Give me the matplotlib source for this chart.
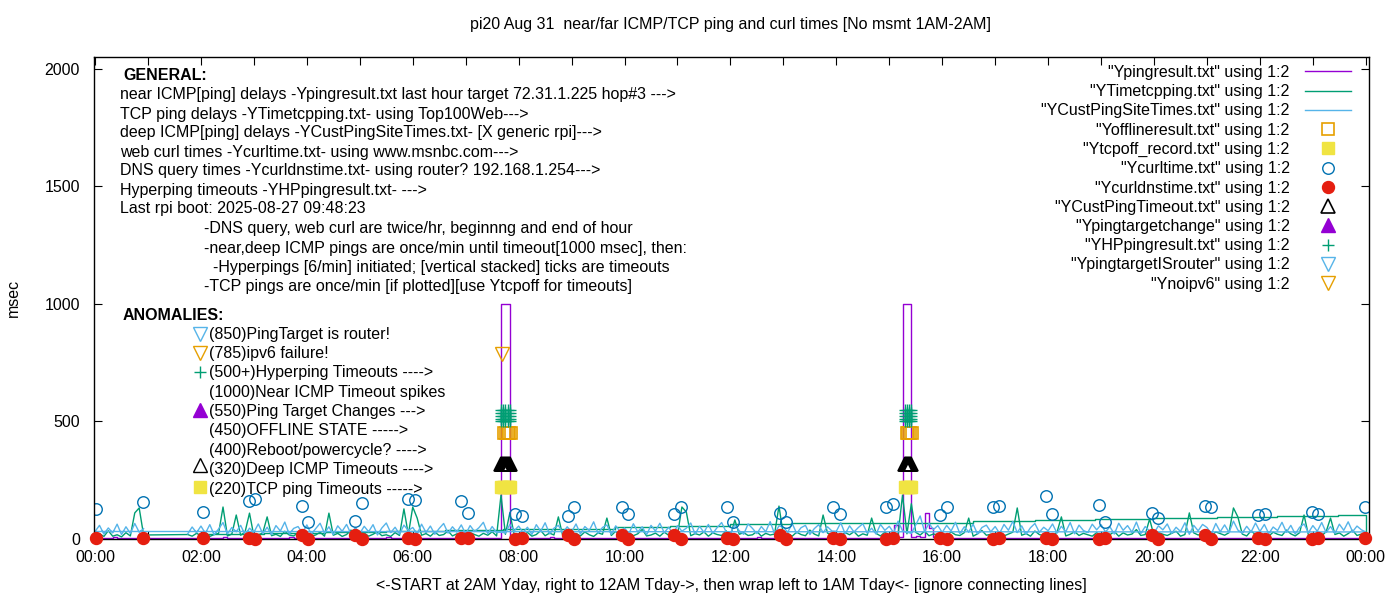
"""
Recreation of the gnuplot ping/curl chart for pi20, Aug 31
"""

import numpy as np
import matplotlib
matplotlib.use("Agg")
import matplotlib.pyplot as plt
from matplotlib.ticker import MultipleLocator, FuncFormatter

plt.rcParams['font.family'] = ['Liberation Sans', 'DejaVu Sans']
FS = 11.5

# gnuplot default line colours
PURPLE = '#9400D3'
GREEN = '#009E73'
LBLUE = '#56B4E9'
ORANGE = '#E69F00'
YELLOW = '#F0E442'
BLUE = '#0072B2'
RED = '#E51E10'

# ---- data (hours of day, msec) -------------------------------------------
# 5 minute samples; nothing measured between ~01:00 and 01:45
t_early = np.arange(12) / 12.0          # 00:00 .. 00:55
t_late = 1.75 + np.arange(268) / 12.0   # 01:45 .. 24:00

# near ICMP ping (Ypingresult.txt)
near_early = [5, 6, 4, 5, 7, 5, 4, 6, 5, 5, 4, 6]
near_late = [
    5, 5, 5,                                          # 01:45
    5, 4, 6, 5, 5, 7, 4, 5, 6, 5, 4, 5,               # 02
    6, 5, 4, 5, 6, 5, 5, 4, 7, 5, 5, 6,               # 03
    4, 5, 6, 5, 4, 5, 6, 5, 5, 4, 6, 5,               # 04
    5, 6, 5, 4, 5, 5, 7, 5, 4, 6, 5, 5,               # 05
    6, 4, 5, 5, 6, 4, 5, 6, 5, 5, 4, 6,               # 06
    5, 5, 6, 4, 5, 6, 5, 5, 1000, 1000, 6, 5,         # 07
    4, 6, 5, 5, 4, 6, 5, 7, 5, 4, 5, 6,               # 08
    5, 4, 6, 5, 5, 4, 6, 5, 4, 6, 5, 5,               # 09
    6, 5, 4, 6, 5, 5, 4, 5, 6, 5, 4, 5,               # 10
    5, 6, 5, 4, 6, 5, 5, 6, 4, 5, 6, 5,               # 11
    4, 5, 6, 5, 5, 4, 7, 5, 5, 6, 4, 5,               # 12
    6, 5, 5, 4, 6, 5, 4, 6, 5, 5, 6, 4,               # 13
    5, 4, 6, 5, 5, 6, 4, 5, 5, 6, 5, 4,               # 14
    5, 60, 8, 1000, 1000, 9, 12, 7, 110, 45, 8, 6,    # 15
    5, 6, 4, 5, 6, 5, 5, 4, 6, 5, 5, 6,               # 16
    4, 5, 5, 6, 4, 5, 6, 5, 4, 6, 5, 5,               # 17
    6, 5, 4, 5, 5, 6, 5, 4, 6, 5, 5, 4,               # 18
    5, 6, 5, 5, 4, 6, 5, 5, 6, 4, 5, 6,               # 19
    4, 5, 6, 5, 5, 4, 6, 5, 5, 6, 4, 5,               # 20
    5, 5, 4, 6, 5, 5, 6, 4, 5, 5, 6, 5,               # 21
    6, 4, 5, 5, 6, 5, 4, 6, 5, 5, 4, 6,               # 22
    5, 5, 6, 4, 5, 6, 5, 5, 4, 6, 5, 5,               # 23
    5,                                                # 24:00
]

# TCP ping (YTimetcpping.txt)
tcp_early = [14, 22, 11, 35, 12, 18, 9, 27, 13, 111, 132, 17]
tcp_late = [
    19, 12, 24,                                       # 01:45
    15, 28, 11, 19, 24, 136, 13, 21, 102, 16, 30, 110,  # 02
    12, 18, 25, 94, 14, 20, 11, 33, 17, 13, 26, 15,   # 03
    21, 13, 17, 29, 12, 110, 16, 24, 11, 19, 38, 14,  # 04
    17, 25, 12, 20, 31, 14, 18, 11, 27, 15, 128, 19,  # 05
    136, 89, 16, 23, 12, 29, 15, 19, 34, 13, 22, 17,  # 06
    14, 27, 19, 12, 24, 16, 31, 13, 187, 20, 111, 18,  # 07
    22, 15, 28, 12, 19, 36, 14, 25, 17, 94, 13, 21,   # 08
    16, 24, 13, 30, 18, 11, 26, 20, 89, 15, 33, 12,   # 09
    19, 28, 14, 22, 41, 13, 17, 25, 12, 29, 16, 21,   # 10
    18, 136, 115, 14, 23, 17, 30, 12, 26, 19, 15, 35,  # 11
    13, 81, 20, 27, 15, 18, 32, 12, 24, 17, 21, 140,  # 12
    16, 23, 12, 29, 19, 14, 38, 21, 13, 102, 25, 17,  # 13
    20, 14, 27, 18, 31, 12, 22, 16, 89, 24, 13, 29,   # 14
    15, 26, 19, 187, 22, 150, 28, 17, 33, 14, 21, 18,  # 15
    24, 13, 30, 18, 15, 27, 89, 12, 22, 36, 16, 20,   # 16
    17, 25, 13, 21, 29, 132, 16, 23, 12, 34, 19, 14,  # 17
    22, 16, 28, 94, 13, 20, 31, 15, 24, 18, 12, 27,   # 18
    14, 23, 18, 32, 12, 26, 17, 21, 40, 15, 19, 85,   # 19
    13, 28, 20, 15, 24, 33, 12, 19, 111, 26, 17, 22,  # 20
    19, 14, 30, 23, 16, 27, 132, 94, 21, 13, 35, 18,  # 21
    25, 17, 12, 29, 20, 15, 38, 22, 13, 27, 102, 16,  # 22
    18, 24, 14, 31, 89, 19, 26, 12, 23, 37, 15, 21,   # 23
    12,                                               # 24:00
]

# hourly TCP block levels (the rising staircase)
tcp_step_t = [2.05, 3.2, 4.35, 5.5, 6.6, 7.7, 9.82, 10.86, 11.99, 13.15,
              14.31, 15.45, 16.58, 17.75, 18.88, 19.98, 21.19, 22.32, 23.47, 24.0]
tcp_step_ms = [20, 25, 30, 34, 39, 43, 51, 55, 64, 66,
               68, 70, 77, 81, 85, 89, 94, 98, 102, 12]

# deep ICMP ping (YCustPingSiteTimes.txt), file order starts at 2AM
deep_early = [32, 58, 21, 47, 26, 63, 19, 52, 24, 66, 29, 44]
deep_late = [
    22, 51, 27,                                       # 01:45
    55, 24, 61, 18, 43, 70, 22, 49, 31, 58, 17, 46,   # 02
    29, 64, 23, 50, 19, 57, 34, 72, 21, 45, 53, 26,   # 03
    60, 20, 44, 67, 25, 52, 18, 56, 33, 62, 22, 48,   # 04
    24, 54, 31, 61, 17, 47, 68, 27, 50, 21, 59, 36,   # 05
    49, 22, 63, 28, 55, 20, 45, 66, 25, 52, 30, 60,   # 06
    21, 57, 32, 48, 71, 23, 53, 27, 30, 25, 62, 35,   # 07
    55, 28, 50, 19, 61, 33, 69, 22, 46, 58, 26, 52,   # 08
    30, 64, 21, 53, 36, 73, 24, 49, 60, 20, 56, 32,   # 09
    47, 23, 65, 30, 52, 18, 58, 34, 67, 27, 50, 22,   # 10
    57, 33, 46, 68, 21, 54, 28, 62, 24, 49, 70, 31,   # 11
    26, 60, 35, 20, 64, 45, 23, 53, 31, 74, 22, 56,   # 12
    50, 29, 66, 24, 48, 58, 19, 44, 61, 27, 52, 34,   # 13
    33, 69, 22, 56, 30, 49, 65, 25, 46, 21, 62, 37,   # 14
    54, 27, 76, 35, 29, 24, 60, 98, 31, 67, 40, 57,   # 15
    28, 58, 34, 71, 23, 52, 30, 63, 21, 49, 59, 31,   # 16
    53, 24, 62, 37, 75, 27, 56, 20, 48, 66, 29, 50,   # 17
    35, 64, 25, 54, 31, 70, 22, 59, 36, 28, 63, 39,   # 18
    61, 30, 52, 21, 67, 37, 57, 29, 72, 23, 53, 34,   # 19
    26, 56, 39, 64, 24, 50, 32, 69, 20, 58, 35, 62,   # 20
    49, 22, 66, 31, 60, 28, 76, 38, 25, 54, 30, 68,   # 21
    32, 62, 23, 51, 36, 71, 29, 58, 21, 50, 64, 27,   # 22
    57, 33, 70, 28, 53, 24, 63, 37, 73, 31, 55, 39,   # 23
    30,                                               # 24:00
]

# curl / DNS measurement times (twice per hour)
meas_t = [0.02, 0.91, 2.04, 2.91, 3.02, 3.91, 4.02, 4.91, 5.04, 5.91, 6.04,
          6.91, 7.04, 7.93, 8.06, 8.93, 9.04, 9.95, 10.06, 10.93, 11.06,
          11.93, 12.05, 12.93, 13.05, 13.94, 14.07, 14.94, 15.07, 15.96, 16.09,
          16.96, 17.07, 17.96, 18.07, 18.96, 19.07, 19.96, 20.07, 20.96, 21.07,
          21.96, 22.09, 22.98, 23.09, 23.98]
curl_ms = [128, 157, 115, 162, 170, 140, 72, 77, 153, 170, 166,
           162, 111, 106, 98, 98, 136, 136, 106, 106, 136,
           136, 72, 111, 72, 136, 106, 136, 149, 102, 136,
           136, 140, 183, 106, 145, 72, 111, 89, 140, 136,
           102, 106, 115, 106, 136]
dns_ms = [3, 3, 3, 3, 2, 16, 2, 15, 2, 3, 2,
          3, 3, 2, 3, 16, 1, 15, 2, 17, 2,
          3, 2, 16, 1, 3, 2, 2, 3, 3, 2,
          2, 3, 3, 2, 2, 3, 15, 2, 16, 1,
          3, 2, 2, 3, 3]

# timeout / anomaly events
offline_t = [7.73, 7.76, 7.79, 7.82, 7.85, 15.33, 15.36, 15.39, 15.42]
offline_ms = 450
tcpoff_t = [7.67, 7.70, 7.73, 7.76, 7.79, 7.82, 7.84, 15.30, 15.33, 15.36, 15.39, 15.41]
tcpoff_ms = 220
custto_t = [7.66, 7.68, 7.70, 7.72, 7.74, 7.76, 7.78, 7.80, 7.82, 7.84,
            15.29, 15.31, 15.33, 15.35, 15.37, 15.39, 15.41]
custto_ms = 320
hp_t = [7.67, 7.71, 7.75, 7.79, 7.84, 15.30, 15.33, 15.37, 15.41]
hp_ms = [500, 512, 524, 536, 548]
targetchange_t = []
targetchange_ms = 550
isrouter_t = []
isrouter_ms = 850
noipv6_t = [7.69]
noipv6_ms = 785

general_lines = [
    "near ICMP[ping] delays -Ypingresult.txt last hour target 72.31.1.225 hop#3 --->",
    "TCP ping delays -YTimetcpping.txt- using Top100Web--->",
    "deep ICMP[ping] delays -YCustPingSiteTimes.txt- [X generic rpi]--->",
    "web curl times -Ycurltime.txt- using www.msnbc.com--->",
    "DNS query times -Ycurldnstime.txt- using router? 192.168.1.254--->",
    "Hyperping timeouts -YHPpingresult.txt- --->",
    "Last rpi boot: 2025-08-27 09:48:23",
]
note_lines = [
    "-DNS query, web curl are twice/hr, beginnng and end of hour",
    "-near,deep ICMP pings are once/min until timeout[1000 msec], then:",
    "  -Hyperpings [6/min] initiated; [vertical stacked] ticks are timeouts",
    "-TCP pings are once/min [if plotted][use Ytcpoff for timeouts]",
]
anomaly_lines = [
    "(850)PingTarget is router!",
    "(785)ipv6 failure!",
    "(500+)Hyperping Timeouts ---->",
    "(1000)Near ICMP Timeout spikes",
    "(550)Ping Target Changes --->",
    "(450)OFFLINE STATE ----->",
    "(400)Reboot/powercycle? ---->",
    "(320)Deep ICMP Timeouts ---->",
    "(220)TCP ping Timeouts ----->",
]

# ---- figure ---------------------------------------------------------------
W, H = 1400, 600
fig = plt.figure(figsize=(W / 100, H / 100), dpi=100)
AX_L, AX_R, AX_T, AX_B = 94, 1369, 57, 539
ax = fig.add_axes([AX_L / W, 1 - AX_B / H, (AX_R - AX_L) / W, (AX_B - AX_T) / H])


def frac(x, y):
    """pixel position of the picture -> axes fraction"""
    return (x - AX_L) / (AX_R - AX_L), (AX_B - y) / (AX_B - AX_T)


lw = 1.0
t_chrono = np.concatenate([t_early, t_late])
ax.plot(t_chrono, near_early + near_late, color=PURPLE, lw=lw, drawstyle='steps-post',
        label='"Ypingresult.txt" using 1:2')
ax.plot(t_chrono, tcp_early + tcp_late, color=GREEN, lw=lw,
        label='"YTimetcpping.txt" using 1:2')
ax.plot(tcp_step_t, tcp_step_ms, color=GREEN, lw=lw, drawstyle='steps-post')
# deep pings are stored starting at 2AM, so the wrap back to 00:00 is drawn
ax.plot(np.concatenate([t_late, t_early]), deep_late + deep_early, color=LBLUE, lw=lw,
        label='"YCustPingSiteTimes.txt" using 1:2')

ax.plot(offline_t, np.full(len(offline_t), offline_ms), 's', ms=9, mfc='none',
        mec=ORANGE, mew=1.2, label='"Yofflineresult.txt" using 1:2')
ax.plot(tcpoff_t, np.full(len(tcpoff_t), tcpoff_ms), 's', ms=9, color=YELLOW,
        mec=YELLOW, label='"Ytcpoff_record.txt" using 1:2')
ax.plot(meas_t, curl_ms, 'o', ms=8.3, mfc='none', mec=BLUE, mew=1,
        label='"Ycurltime.txt" using 1:2')
ax.plot(meas_t, dns_ms, 'o', ms=8.6, color=RED, clip_on=False, zorder=3,
        label='"Ycurldnstime.txt" using 1:2')
ax.plot(custto_t, np.full(len(custto_t), custto_ms), '^', ms=10.5, mfc='none',
        mec='black', mew=1.2, label='"YCustPingTimeout.txt" using 1:2')
ax.plot(targetchange_t, np.full(len(targetchange_t), targetchange_ms), '^', ms=10.5,
        color=PURPLE, label='"Ypingtargetchange" using 1:2')
hp_x, hp_y = np.meshgrid(hp_t, hp_ms)
ax.plot(hp_x.ravel(), hp_y.ravel(), '+', ms=9, mew=1, color=GREEN, linestyle='none',
        label='"YHPpingresult.txt" using 1:2')
ax.plot(isrouter_t, np.full(len(isrouter_t), isrouter_ms), 'v', ms=10.5, mfc='none',
        mec=LBLUE, mew=1, label='"YpingtargetISrouter" using 1:2')
ax.plot(noipv6_t, np.full(len(noipv6_t), noipv6_ms), 'v', ms=10.5, mfc='none',
        mec=ORANGE, mew=1, label='"Ynoipv6" using 1:2')

# axes
ax.set_xlim(-0.02, 24.06)
ax.set_ylim(0, 2050)
ax.xaxis.set_major_locator(MultipleLocator(2))
ax.xaxis.set_minor_locator(MultipleLocator(1))
ax.xaxis.set_major_formatter(FuncFormatter(lambda v, p: f"{int(round(v)) % 24:02d}:00"))
ax.yaxis.set_major_locator(MultipleLocator(500))
ax.tick_params(which='both', direction='in', top=True, right=True, length=6,
               width=0.8, labelsize=FS, color='black')
ax.tick_params(axis='y', pad=10)
ax.tick_params(axis='x', pad=8)
for s in ax.spines.values():
    s.set_linewidth(1.0)

ax.set_ylabel('msec', fontsize=FS, labelpad=17)
ax.set_xlabel('<-START at 2AM Yday, right to 12AM Tday->, then wrap left to 1AM Tday<- '
              '[ignore connecting lines]', fontsize=FS, labelpad=9)
fig.text(731 / W, 1 - 25 / H, 'pi20 Aug 31  near/far ICMP/TCP ping and curl times '
         '[No msmt 1AM-2AM]', ha='center', va='center', fontsize=FS)

ax.legend(loc='upper right', bbox_to_anchor=frac(1351, 65), frameon=False,
          markerfirst=False, fontsize=FS, handlelength=2.9, handletextpad=0.95,
          labelspacing=0.265, borderaxespad=0, borderpad=0)

# text block: GENERAL
txt = dict(transform=ax.transAxes, fontsize=FS, va='center', ha='left')
ax.text(*frac(123, 75), 'GENERAL:', fontweight='bold', **txt)
for i, line in enumerate(general_lines):
    ax.text(*frac(120, 95 + 19 * i), line, **txt)
for i, line in enumerate(note_lines):
    ax.text(*frac(204, 229 + 19.1 * i), line, **txt)

# text block: ANOMALIES with their symbols
ax.text(*frac(123, 315), 'ANOMALIES:', fontweight='bold', **txt)
for i, line in enumerate(anomaly_lines):
    ax.text(*frac(209, 334 + 19.4 * i), line, **txt)
key = dict(transform=ax.transAxes, clip_on=False, linestyle='none')
ax.plot(*frac(200, 334), 'v', ms=10.5, mfc='none', mec=LBLUE, mew=1, **key)
ax.plot(*frac(200, 353), 'v', ms=10.5, mfc='none', mec=ORANGE, mew=1, **key)
ax.plot(*frac(200, 372), '+', ms=9, mew=1, color=GREEN, **key)
ax.plot(*frac(200, 410), '^', ms=10.5, color=PURPLE, **key)
ax.plot(*frac(200, 465), '^', ms=10.5, mfc='none', mec='black', mew=1, **key)
ax.plot(*frac(200, 487), 's', ms=9, color=YELLOW, **key)

fig.savefig('out.png', dpi=100)
